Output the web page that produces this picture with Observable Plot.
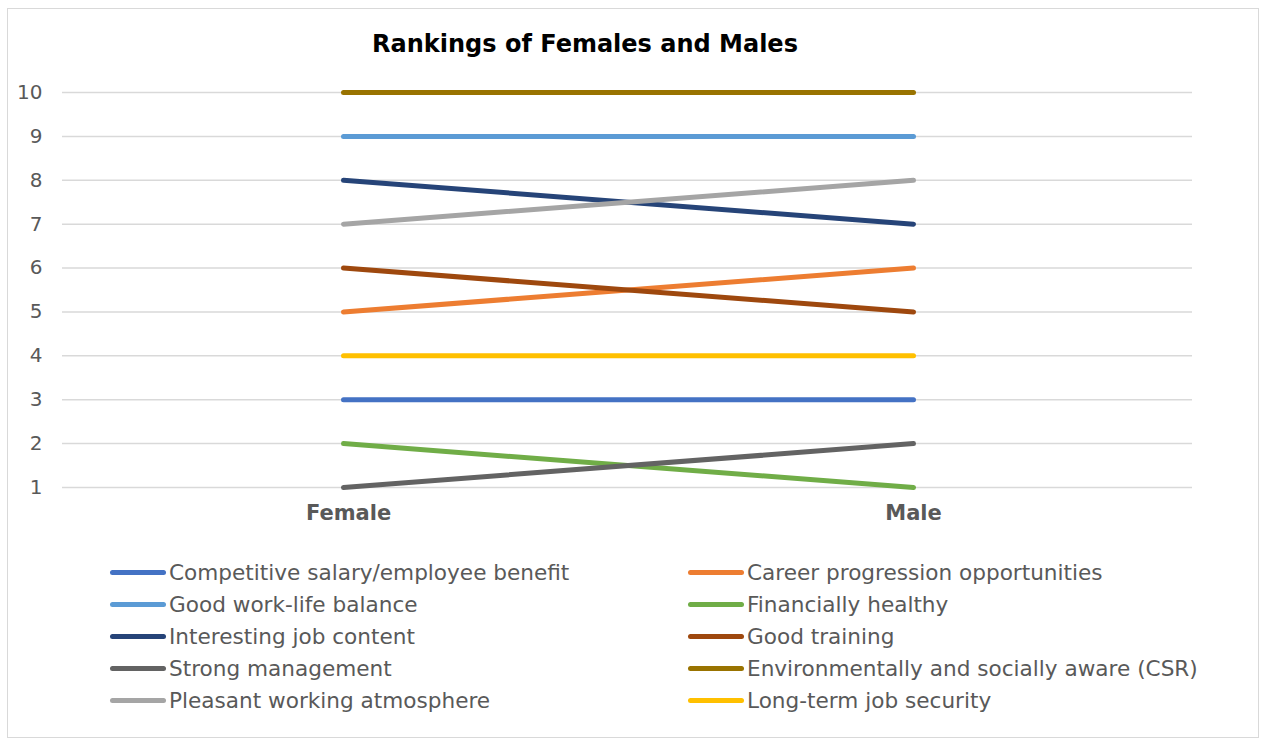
<!DOCTYPE html>
<html>
<head>
<meta charset="utf-8">
<script src="https://cdn.jsdelivr.net/npm/d3@7"></script>
<script src="https://cdn.jsdelivr.net/npm/@observablehq/plot@0.6"></script>
<style>
  html, body { margin: 0; padding: 0; background: #fff; }
  body { width: 1261px; height: 739px; position: relative; overflow: hidden; font-family: "DejaVu Sans", Verdana, sans-serif; }
  #frame { position: absolute; left: 7px; top: 8px; width: 1252px; height: 730px; border: 1px solid #d9d9d9; box-sizing: border-box; }
  #title { position: absolute; left: 0; width: 1170px; top: 30px; text-align: center; font-weight: bold; font-size: 24px; color: #000; }
  #chart { position: absolute; left: 0; top: 0; }
  .leg { position: absolute; display: flex; align-items: center; font-size: 21.6px; color: #595959; white-space: nowrap; }
  .sw { width: 56px; height: 5px; border-radius: 3px; margin-right: 3px; }
</style>
</head>
<body>
<div id="frame"></div>
<div id="chart"></div>
<div id="title">Rankings of Females and Males</div>
<div id="legend"></div>
<script>
const groups = ["Female", "Male"];
const series = [
  "Competitive salary/employee benefit",
  "Career progression opportunities",
  "Good work-life balance",
  "Financially healthy",
  "Interesting job content",
  "Good training",
  "Strong management",
  "Environmentally and socially aware (CSR)",
  "Pleasant working atmosphere",
  "Long-term job security"
];
const femaleRank = [3, 5, 9, 2, 8, 6, 1, 10, 7, 4];
const maleRank   = [3, 6, 9, 1, 7, 5, 2, 10, 8, 4];
const colors = ["#4472C4", "#ED7D31", "#5B9BD5", "#70AD47", "#264478", "#9E480E", "#636363", "#997300", "#A5A5A5", "#FFC000"];
const yTicks = [1, 2, 3, 4, 5, 6, 7, 8, 9, 10];

const data = [];
series.forEach((s, i) => {
  data.push({series: s, group: groups[0], rank: femaleRank[i]});
  data.push({series: s, group: groups[1], rank: maleRank[i]});
});

const chart = Plot.plot({
  width: 1261,
  height: 535,
  marginLeft: 62,
  marginRight: 69,
  marginTop: 92,
  marginBottom: 48,
  style: {fontFamily: '"DejaVu Sans", Verdana, sans-serif', fontSize: "20px", color: "#595959", background: "transparent"},
  x: {type: "point", domain: groups, range: [343, 913], padding: 0, label: null},
  y: {domain: [1, 10], ticks: yTicks, label: null},
  color: {domain: series, range: colors},
  marks: [
    Plot.gridY(yTicks, {stroke: "#d9d9d9", strokeOpacity: 1, strokeWidth: 1.5}),
    Plot.axisY({ticks: yTicks, tickSize: 0, tickPadding: 20, tickFormat: d => String(d), fill: "#595959", fontSize: 20, label: null}),
    Plot.axisX({ticks: [groups[0]], tickSize: 0, tickPadding: 18, fontWeight: "bold", fill: "#595959", fontSize: 21, label: null, dx: 5}),
    Plot.axisX({ticks: [groups[1]], tickSize: 0, tickPadding: 18, fontWeight: "bold", fill: "#595959", fontSize: 21, label: null, dx: 0}),
    Plot.line(data, {x: "group", y: "rank", z: "series", stroke: "series", strokeWidth: 5, strokeLinecap: "round", strokeLinejoin: "round"})
  ]
});
document.getElementById("chart").appendChild(chart);

const legend = document.getElementById("legend");
series.forEach((s, i) => {
  const col = i % 2, row = Math.floor(i / 2);
  const el = document.createElement("div");
  el.className = "leg";
  el.style.left = (col === 0 ? 110 : 688) + "px";
  el.style.top = (558 + row * 32) + "px";
  el.style.height = "28px";
  const sw = document.createElement("div");
  sw.className = "sw";
  sw.style.background = colors[i];
  const tx = document.createElement("span");
  tx.textContent = s;
  el.appendChild(sw);
  el.appendChild(tx);
  legend.appendChild(el);
});
</script>
</body>
</html>
